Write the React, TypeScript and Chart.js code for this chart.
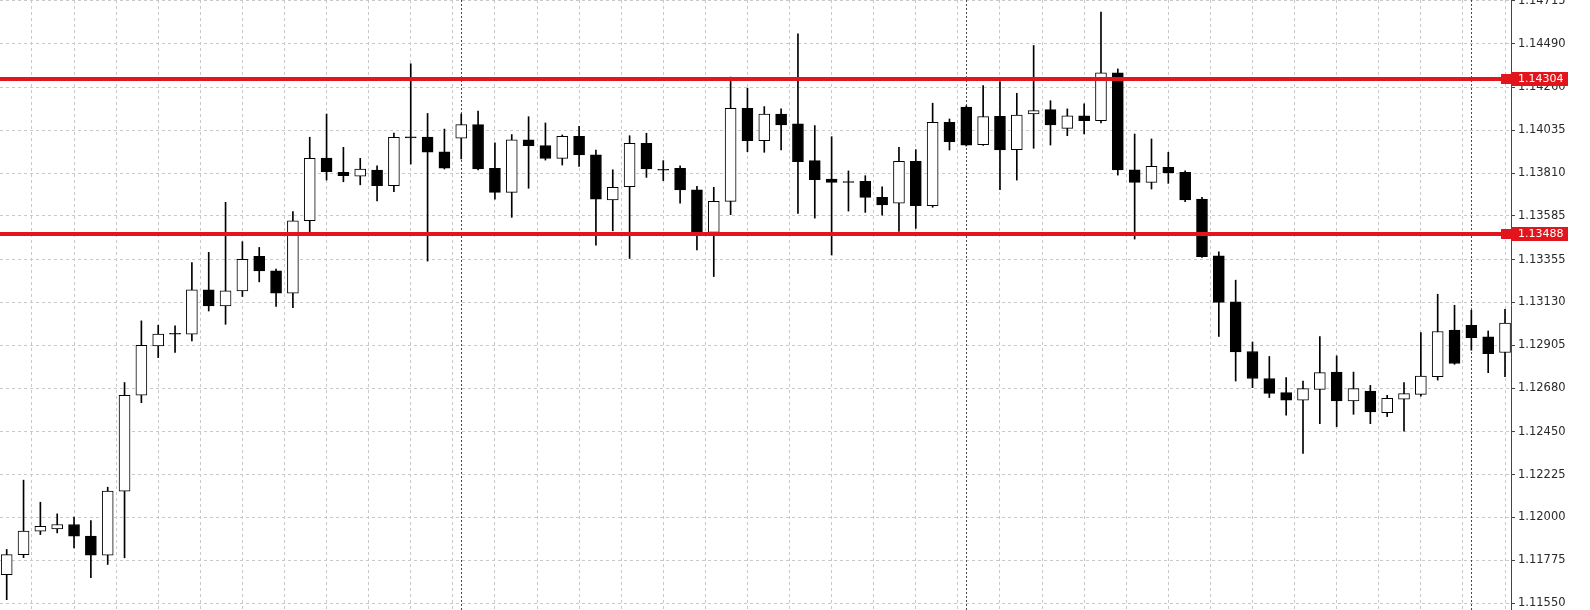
import React, { useEffect, useRef } from 'react';
import { Chart, registerables } from 'chart.js';

Chart.register(...registerables);

// ---- Data (OHLC, one entry per bar) ----
const opens = [
  1.11700, 1.11805, 1.11928, 1.11940, 1.11963, 1.11902, 1.11802, 1.12138, 1.12642, 1.12901,
  1.12968, 1.12963, 1.13196, 1.13112, 1.13191, 1.13372, 1.13296, 1.13179, 1.13559, 1.13889,
  1.13814, 1.13793, 1.13826, 1.13743, 1.14000, 1.13999, 1.13922, 1.13993, 1.14064, 1.13835,
  1.13708, 1.13985, 1.13954, 1.13887, 1.14003, 1.13905, 1.13668, 1.13738, 1.13966, 1.13830,
  1.13835, 1.13722, 1.13498, 1.13661, 1.14150, 1.13980, 1.14120, 1.14068, 1.13875, 1.13778,
  1.13765, 1.13766, 1.13682, 1.13651, 1.13872, 1.13638, 1.14077, 1.14156, 1.13959, 1.14108,
  1.13933, 1.14120, 1.14143, 1.14045, 1.14111, 1.14085, 1.14336, 1.13827, 1.13761, 1.13840,
  1.13814, 1.13673, 1.13375, 1.13133, 1.12872, 1.12730, 1.12656, 1.12616, 1.12673, 1.12764,
  1.12612, 1.12664, 1.12551, 1.12621, 1.12647, 1.12740, 1.12984, 1.13010, 1.12949, 1.12867,
];
const highs = [
  1.11832, 1.12196, 1.12080, 1.12019, 1.12002, 1.11984, 1.12159, 1.12709, 1.13033, 1.13010,
  1.13007, 1.13340, 1.13393, 1.13656, 1.13449, 1.13419, 1.13305, 1.13608, 1.13998, 1.14120,
  1.13945, 1.13887, 1.13848, 1.14020, 1.14384, 1.14123, 1.14041, 1.14120, 1.14135, 1.13968,
  1.14012, 1.14106, 1.14073, 1.14010, 1.14056, 1.13931, 1.13827, 1.14006, 1.14019, 1.13875,
  1.13848, 1.13740, 1.13735, 1.14314, 1.14256, 1.14159, 1.14147, 1.14541, 1.14059, 1.14001,
  1.13821, 1.13796, 1.13738, 1.13945, 1.13933, 1.14177, 1.14094, 1.14163, 1.14269, 1.14290,
  1.14229, 1.14480, 1.14190, 1.14147, 1.14173, 1.14656, 1.14357, 1.14015, 1.13989, 1.13919,
  1.13822, 1.13682, 1.13396, 1.13247, 1.12922, 1.12846, 1.12735, 1.12717, 1.12951, 1.12849,
  1.12764, 1.12694, 1.12642, 1.12709, 1.12972, 1.13173, 1.13115, 1.13089, 1.12980, 1.13094,
];
const lows = [
  1.11568, 1.11789, 1.11910, 1.11919, 1.11840, 1.11683, 1.11753, 1.11788, 1.12603, 1.12840,
  1.12867, 1.12928, 1.13085, 1.13015, 1.13161, 1.13238, 1.13109, 1.13103, 1.13501, 1.13773,
  1.13764, 1.13748, 1.13664, 1.13712, 1.13857, 1.13347, 1.13831, 1.13884, 1.13826, 1.13673,
  1.13577, 1.13730, 1.13878, 1.13852, 1.13845, 1.13431, 1.13506, 1.13361, 1.13787, 1.13770,
  1.13651, 1.13406, 1.13266, 1.13591, 1.13922, 1.13919, 1.13931, 1.13598, 1.13573, 1.13379,
  1.13610, 1.13603, 1.13589, 1.13503, 1.13519, 1.13630, 1.13931, 1.13952, 1.13955, 1.13722,
  1.13773, 1.13940, 1.13957, 1.14006, 1.14015, 1.14073, 1.13799, 1.13463, 1.13726, 1.13756,
  1.13659, 1.13366, 1.12951, 1.12717, 1.12682, 1.12630, 1.12537, 1.12337, 1.12493, 1.12477,
  1.12542, 1.12493, 1.12530, 1.12454, 1.12638, 1.12722, 1.12805, 1.12879, 1.12761, 1.12740,
];
const closes = [
  1.11805, 1.11928, 1.11954, 1.11963, 1.11902, 1.11802, 1.12138, 1.12642, 1.12905, 1.12963,
  1.12963, 1.13196, 1.13112, 1.13191, 1.13357, 1.13296, 1.13179, 1.13559, 1.13887, 1.13817,
  1.13796, 1.13831, 1.13743, 1.13998, 1.13995, 1.13920, 1.13836, 1.14064, 1.13831, 1.13708,
  1.13985, 1.13954, 1.13887, 1.14003, 1.13905, 1.13673, 1.13735, 1.13966, 1.13831, 1.13825,
  1.13721, 1.13498, 1.13661, 1.14150, 1.13980, 1.14120, 1.14063, 1.13869, 1.13775, 1.13761,
  1.13760, 1.13682, 1.13643, 1.13872, 1.13638, 1.14077, 1.13975, 1.13957, 1.14106, 1.13931,
  1.14115, 1.14138, 1.14063, 1.14111, 1.14085, 1.14336, 1.13826, 1.13761, 1.13845, 1.13810,
  1.13668, 1.13370, 1.13130, 1.12870, 1.12730, 1.12652, 1.12616, 1.12677, 1.12761, 1.12612,
  1.12677, 1.12554, 1.12626, 1.12651, 1.12743, 1.12977, 1.12809, 1.12945, 1.12861, 1.13021,
];

const yTickLabels = [
  '1.14715', '1.14490', '1.14260', '1.14035', '1.13810', '1.13585', '1.13355', '1.13130',
  '1.12905', '1.12680', '1.12450', '1.12225', '1.12000', '1.11775', '1.11550',
];

const levelValues = [1.14304, 1.13488];
const levelLabels = ['1.14304', '1.13488'];
const separatorBars = [27, 57, 87];

// ---- Styles ----
const RED = '#e2151d';
const GRID = '#c9c9c9';
const AXIS_W = 79;

const separatorPlugin = {
  id: 'separators',
  beforeDatasetsDraw(chart: any) {
    const { ctx, chartArea, scales } = chart;
    ctx.save();
    ctx.strokeStyle = '#4a4a4a';
    ctx.lineWidth = 1;
    ctx.setLineDash([2, 2]);
    separatorBars.forEach((b) => {
      const x = Math.round(scales.x.getPixelForValue(b)) + 0.5;
      ctx.beginPath();
      ctx.moveTo(x, chartArea.top);
      ctx.lineTo(x, chartArea.bottom);
      ctx.stroke();
    });
    ctx.restore();
  },
};

const levelPlugin = {
  id: 'levels',
  afterDraw(chart: any) {
    const { ctx, chartArea, scales } = chart;
    ctx.save();
    levelValues.forEach((v, i) => {
      const py = Math.round(scales.y.getPixelForValue(v));
      ctx.fillStyle = RED;
      ctx.fillRect(chartArea.left, py - 2, chartArea.right - chartArea.left, 4);
      ctx.fillRect(chartArea.right - 10, py - 5, 10, 10);
      ctx.fillRect(chartArea.right, py - 7, 57, 14);
      ctx.fillStyle = '#ffffff';
      ctx.font = '11px "DejaVu Sans"';
      ctx.textBaseline = 'middle';
      ctx.textAlign = 'left';
      ctx.fillText(levelLabels[i], chartArea.right + 7, py + 0.5);
    });
    ctx.restore();
  },
};

export default function App() {
  const ref = useRef<HTMLCanvasElement | null>(null);

  useEffect(() => {
    if (!ref.current) return;
    const bodies = opens.map((o, i) => ({ x: i, y: [o, closes[i]] }));
    const wicks = opens.map((_, i) => ({ x: i, y: [lows[i], highs[i]] }));
    const bodyColors = opens.map((o, i) => (closes[i] >= o ? '#ffffff' : '#000000'));

    const xMin = -0.398;
    const xMax = 89.355;
    const yMax = 1.147192;
    const yMin = 1.115137;

    const chart = new Chart(ref.current, {
      type: 'bar',
      data: {
        datasets: [
          {
            label: 'wick',
            data: wicks as any,
            backgroundColor: '#000000',
            borderWidth: 0,
            barThickness: 1,
            grouped: false,
            order: 2,
          } as any,
          {
            label: 'body',
            data: bodies as any,
            backgroundColor: bodyColors,
            borderColor: '#000000',
            borderWidth: 1,
            borderSkipped: false,
            barThickness: 11,
            grouped: false,
            order: 1,
          } as any,
        ],
      },
      options: {
        animation: false,
        responsive: false,
        devicePixelRatio: 1,
        layout: { padding: 0, autoPadding: false } as any,
        plugins: {
          legend: { display: false },
          tooltip: { enabled: false },
        },
        scales: {
          x: {
            type: 'linear',
            min: xMin,
            max: xMax,
            offset: false,
            grid: { color: GRID, lineWidth: 1, drawTicks: false, offset: false },
            border: { display: false, dash: [3, 3] },
            ticks: { display: false },
            afterBuildTicks: (scale: any) => {
              const t: any[] = [];
              for (let v = 1.5; v <= xMax; v += 2.5) t.push({ value: v });
              scale.ticks = t;
            },
            afterFit: (scale: any) => {
              scale.height = 0;
            },
          },
          y: {
            type: 'linear',
            position: 'right',
            min: yMin,
            max: yMax,
            beginAtZero: false,
            grid: {
              color: GRID,
              lineWidth: 1,
              drawTicks: true,
              tickLength: 4,
              tickColor: '#444444',
              tickBorderDash: [],
            } as any,
            border: { display: true, color: '#444444', width: 1, dash: [3, 3] },
            ticks: {
              autoSkip: false,
              padding: 3,
              color: '#2a2a2a',
              font: { family: 'DejaVu Sans', size: 11.5 },
              callback: (_v: any, i: number) => yTickLabels[i],
            },
            afterBuildTicks: (scale: any) => {
              scale.ticks = yTickLabels.map((s) => ({ value: parseFloat(s) }));
            },
            afterFit: (scale: any) => {
              scale.width = AXIS_W;
              scale.paddingTop = 0;
              scale.paddingBottom = 0;
            },
          },
        },
      } as any,
      plugins: [separatorPlugin, levelPlugin],
    });
    return () => chart.destroy();
  }, []);

  return (
    <div style={{ position: 'fixed', left: 0, top: 0, width: 1590, height: 610, background: '#ffffff' }}>
      <canvas ref={ref} width={1590} height={610} style={{ display: 'block', width: 1590, height: 610 }} />
    </div>
  );
}
